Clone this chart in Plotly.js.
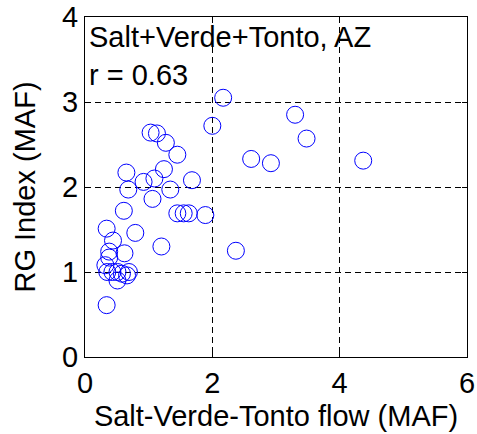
<!DOCTYPE html>
<html>
<head>
<meta charset="utf-8">
<script src="https://cdn.plot.ly/plotly-3.0.1.min.js"></script>
<style>html,body{margin:0;padding:0;background:#fff;}#chart{width:477px;height:434px;}</style>
</head>
<body>
<div id="chart"></div>
<script>
const flowMAF = [2.17,2.00,1.03,1.13,1.27,1.45,0.65,1.24,0.92,1.09,0.68,1.34,1.68,2.61,2.92,1.06,3.30,3.48,4.37,0.61,1.45,1.55,1.63,1.89,0.34,0.79,0.44,1.20,2.37,0.38,0.62,0.38,0.32,0.35,0.43,0.51,0.58,0.66,0.69,0.51,0.34];
const rgIndex = [3.05,2.72,2.64,2.63,2.52,2.38,2.17,2.21,2.06,2.10,1.97,1.97,2.08,2.33,2.28,1.86,2.85,2.57,2.31,1.72,1.69,1.69,1.69,1.67,1.51,1.46,1.37,1.30,1.25,1.24,1.22,1.17,1.08,1.00,1.00,1.00,0.98,0.96,1.00,0.90,0.61];
const xTicks = [0,2,4,6];
const yTicks = [0,1,2,3,4];
const titleLine1 = "Salt+Verde+Tonto, AZ";
const titleLine2 = "r = 0.63";

const font = {family: "Liberation Sans, Arial, sans-serif", size: 29, color: "#000"};
const axisCommon = {
  showline: true, linecolor: "#000", linewidth: 1, mirror: "ticks",
  ticks: "inside", ticklen: 5, tickcolor: "#000",
  showgrid: true, gridcolor: "#000", gridwidth: 1, griddash: "6px,4px",
  zeroline: false, tickfont: font, fixedrange: true
};
Plotly.newPlot("chart", [{
  x: flowMAF, y: rgIndex, type: "scatter", mode: "markers",
  marker: {symbol: "circle-open", size: 17, color: "#0000ff", line: {width: 1, color: "#0000ff"}},
  hoverinfo: "none"
}], {
  width: 477, height: 434,
  margin: {l: 85, r: 10, t: 17, b: 77},
  paper_bgcolor: "#fff", plot_bgcolor: "#fff",
  showlegend: false,
  font: font,
  xaxis: Object.assign({}, axisCommon, {range: [0, 6], tickvals: xTicks, ticktext: xTicks.map(String),
    title: {text: "Salt-Verde-Tonto flow (MAF)", font: font, standoff: 7}}),
  yaxis: Object.assign({}, axisCommon, {range: [0, 4], tickvals: yTicks, ticktext: yTicks.map(String),
    title: {text: "RG Index (MAF)", font: font, standoff: 17}}),
  annotations: [
    {xref: "paper", yref: "paper", x: 0.005, y: 0.995, xanchor: "left", yanchor: "top",
     text: titleLine1 + "<br>" + titleLine2, showarrow: false, align: "left", font: font}
  ]
}, {displayModeBar: false, staticPlot: true});
</script>
</body>
</html>
